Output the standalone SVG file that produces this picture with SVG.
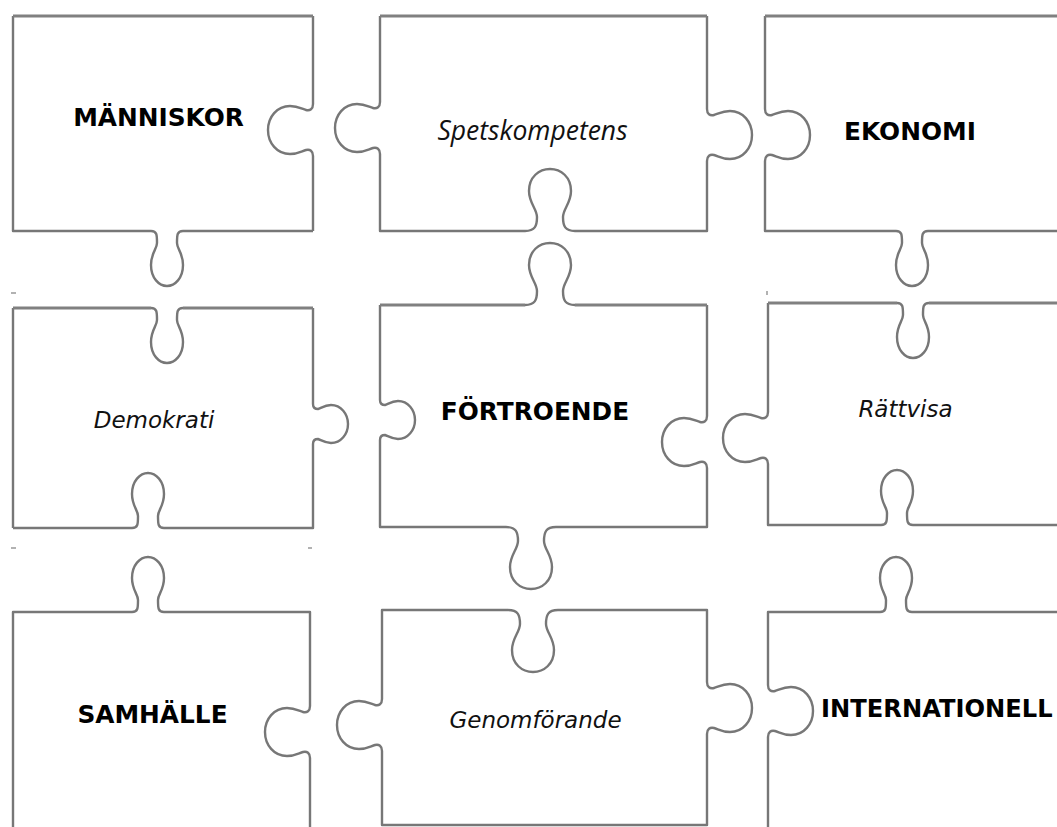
<svg xmlns="http://www.w3.org/2000/svg" xmlns:xlink="http://www.w3.org/1999/xlink" width="1057" height="827" viewBox="0 0 1057 827">
<style>
.edge{fill:none;stroke:#777;stroke-width:2.4;stroke-linecap:butt;stroke-linejoin:round}
.thick{stroke-width:3.2;stroke:#808080}
.bold{font-family:"DejaVu Sans",Verdana,sans-serif;font-weight:bold;font-size:24.8px;fill:#000}
.ital{font-family:"DejaVu Sans",Verdana,sans-serif;font-style:italic;font-size:23px;fill:#111}
.ital2{font-family:"Open Sans","DejaVu Sans",sans-serif;font-style:italic;font-size:26.5px;fill:#111}
.mark{stroke:#999;stroke-width:1.5}
</style>
<defs>
<path id="tabV" class="edge" d="M -16,0 C -10,0 -10,-4 -10,-12 C -10,-18 -16,-22 -16,-34 C -16,-47 -8,-55 0,-55 C 8,-55 16,-47 16,-34 C 16,-22 10,-18 10,-12 C 10,-4 10,0 16,0"/>
<path id="tabC" class="edge" d="M -25,0 C -15,0 -13,-5 -13,-14 C -13,-22 -21,-28 -21,-40 C -21,-54 -11,-62 0,-62 C 11,-62 21,-54 21,-40 C 21,-28 13,-22 13,-14 C 13,-5 15,0 25,0"/>
<path id="lobe" class="edge" d="M -26,0 C -21,0 -19,-3 -20,-7 C -21,-11 -24,-15 -24,-23 C -24,-36 -13,-45 0,-45 C 13,-45 24,-36 24,-23 C 24,-15 21,-11 20,-7 C 19,-3 21,0 26,0"/>
<path id="lobeS" class="edge" d="M -20,0 C -16,0 -15,-2 -15,-5 C -16,-8 -19,-12 -19,-18 C -19,-28 -10,-35 0,-35 C 10,-35 19,-28 19,-18 C 19,-12 16,-8 15,-5 C 15,-2 16,0 20,0"/>
</defs>
<rect width="1057" height="827" fill="#fff"/>
<g id="connectors"></g>

<g id="p1">
<path class="edge" d="M 313,104 V 16 M 313,231 H 183 M 151,231 H 13 V 16 M 313,231 V 156"/>
<path class="edge thick" d="M 13,16 H 313"/>
<use xlink:href="#lobe" transform="translate(313,130) rotate(-90)"/>
<use xlink:href="#tabV" transform="translate(167,231) rotate(180)"/>
<text class="bold" x="158.5" y="126" text-anchor="middle">MÄNNISKOR</text>
</g>

<g id="p2">
<path class="edge" d="M 380,102 V 16 M 707,16 V 109 M 707,161 V 231 H 575 M 525,231 H 380 V 154"/>
<path class="edge thick" d="M 380,16 H 707"/>
<use xlink:href="#lobe" transform="translate(380,128) rotate(-90)"/>
<use xlink:href="#lobe" transform="translate(707,135) rotate(90)"/>
<use xlink:href="#tabC" transform="translate(550,231)"/>
<text class="ital2" x="532.5" y="140" text-anchor="middle">Spetskompetens</text>
</g>

<g id="p3">
<path class="edge" d="M 765,16 V 109 M 765,161 V 231 H 896 M 928,231 H 1060"/>
<path class="edge thick" d="M 1060,16 H 765"/>
<use xlink:href="#lobe" transform="translate(765,135) rotate(90)"/>
<use xlink:href="#tabV" transform="translate(912,231) rotate(180)"/>
<text class="bold" x="910" y="140" text-anchor="middle">EKONOMI</text>
</g>

<g id="p4">
<path class="edge" d="M 13,528 V 308 M 313,308 V 404 M 313,444 V 528 H 164 M 132,528 H 13"/>
<path class="edge thick" d="M 13,308 H 151 M 183,308 H 313"/>
<use xlink:href="#tabV" transform="translate(167,308) rotate(180)"/>
<use xlink:href="#lobeS" transform="translate(313,424) rotate(90)"/>
<use xlink:href="#tabV" transform="translate(148,528)"/>
<text class="ital" x="154" y="428" text-anchor="middle">Demokrati</text>
</g>

<g id="p5">
<path class="edge" d="M 380,400 V 305 M 707,305 V 416 M 707,468 V 527 H 556 M 506,527 H 380 V 440"/>
<path class="edge thick" d="M 380,305 H 525 M 575,305 H 707"/>
<use xlink:href="#tabC" transform="translate(550,305)"/>
<use xlink:href="#lobeS" transform="translate(380,420) rotate(90)"/>
<use xlink:href="#lobe" transform="translate(707,442) rotate(-90)"/>
<use xlink:href="#tabC" transform="translate(531,527) rotate(180)"/>
<text class="bold" x="535" y="420" text-anchor="middle">FÖRTROENDE</text>
</g>

<g id="p6">
<path class="edge" d="M 768,303 V 412 M 768,464 V 525 H 881 M 913,525 H 1060"/>
<path class="edge thick" d="M 1060,303 H 929 M 897,303 H 768"/>
<use xlink:href="#tabV" transform="translate(913,303) rotate(180)"/>
<use xlink:href="#lobe" transform="translate(768,438) rotate(-90)"/>
<use xlink:href="#tabV" transform="translate(897,525)"/>
<text class="ital" x="905.5" y="417" text-anchor="middle">Rättvisa</text>
</g>

<g id="p7">
<path class="edge" d="M 13,830 V 612 H 132 M 164,612 H 310 V 706 M 310,758 V 830"/>
<use xlink:href="#tabV" transform="translate(148,612)"/>
<use xlink:href="#lobe" transform="translate(310,732) rotate(-90)"/>
<text class="bold" x="152.5" y="723" text-anchor="middle">SAMHÄLLE</text>
</g>

<g id="p8">
<path class="edge" d="M 382,699 V 610 H 508 M 558,610 H 707 V 682 M 707,734 V 825 H 382 V 751"/>
<use xlink:href="#tabC" transform="translate(533,610) rotate(180)"/>
<use xlink:href="#lobe" transform="translate(382,725) rotate(-90)"/>
<use xlink:href="#lobe" transform="translate(707,708) rotate(90)"/>
<text class="ital" x="535.5" y="728" text-anchor="middle">Genomförande</text>
</g>

<g id="p9">
<path class="edge" d="M 1060,612 H 912 M 880,612 H 768 V 685 M 768,737 V 830"/>
<use xlink:href="#tabV" transform="translate(896,612)"/>
<use xlink:href="#lobe" transform="translate(768,711) rotate(90)"/>
<text class="bold" x="821" y="717" style="font-size:24.2px">INTERNATIONELL</text>
</g>

<g id="marks">
<line class="mark" x1="11" y1="293" x2="16" y2="293"/>
<line class="mark" x1="11" y1="548" x2="16" y2="548"/>
<line class="mark" x1="308" y1="548" x2="312" y2="548"/>
<line class="mark" x1="767" y1="291" x2="767" y2="295"/>
</g>
</svg>
